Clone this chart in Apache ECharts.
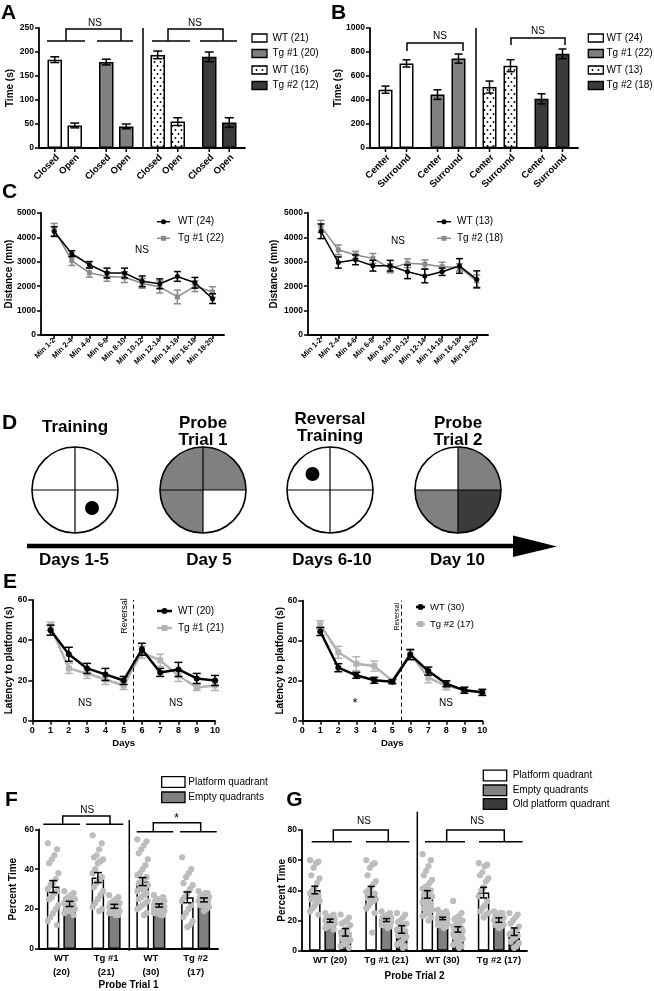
<!DOCTYPE html>
<html><head><meta charset="utf-8">
<script src="https://cdn.jsdelivr.net/npm/echarts@6.0.0/dist/echarts.min.js"></script>
<style>html,body{margin:0;padding:0;background:#fff;}#chart{width:654px;height:991px;}</style>
</head><body><div id="chart"></div>
<script>
// ================= DATA =================
// Panel A – elevated plus maze
const aGroups = ['WT (21)', 'Tg #1 (20)', 'WT (16)', 'Tg #2 (12)'];
const aConditions = ['Closed', 'Open'];
const aClosed = [184, 179, 194, 190];
const aClosedErr = [6, 6, 8, 10];
const aOpen = [47, 45, 55, 53];
const aOpenErr = [5, 5, 8, 10];
const aYTicks = [0, 50, 100, 150, 200, 250];

// Panel B – open field
const bGroups = ['WT (24)', 'Tg #1 (22)', 'WT (13)', 'Tg #2 (18)'];
const bConditions = ['Center', 'Surround'];
const bCenter = [486, 445, 508, 410];
const bCenterErr = [30, 40, 50, 42];
const bSurround = [705, 745, 686, 785];
const bSurroundErr = [30, 38, 50, 40];
const bYTicks = [0, 200, 400, 600, 800, 1000];

// Panel C – distance travelled
const cCategories = ['Min 1-2', 'Min 2-4', 'Min 4-6', 'Min 6-8', 'Min 8-10', 'Min 10-12', 'Min 12-14', 'Min 14-16', 'Min 16-18', 'Min 18-20'];
const cYTicks = [0, 1000, 2000, 3000, 4000, 5000];
const c1Names = ['WT (24)', 'Tg #1 (22)'];
const c1WT = [4240, 3330, 2880, 2540, 2540, 2200, 2100, 2400, 2140, 1490];
const c1WTErr = [200, 120, 130, 200, 200, 220, 200, 200, 220, 200];
const c1Tg = [4320, 3050, 2550, 2400, 2370, 2120, 1970, 1560, 2000, 1760];
const c1TgErr = [250, 200, 180, 200, 220, 200, 250, 280, 220, 220];
const c2Names = ['WT (13)', 'Tg #2 (18)'];
const c2WT = [4250, 2970, 3080, 2840, 2840, 2590, 2420, 2590, 2830, 2280];
const c2WTErr = [300, 230, 200, 220, 220, 280, 280, 150, 300, 350];
const c2Tg = [4450, 3490, 3280, 3140, 2730, 2940, 2900, 2800, 2770, 2210];
const c2TgErr = [250, 200, 150, 200, 180, 180, 180, 180, 150, 250];

// Panel D – schematic
const dTitles = [['Training'], ['Probe', 'Trial 1'], ['Reversal', 'Training'], ['Probe', 'Trial 2']];
const dDays = ['Days 1-5', 'Day 5', 'Days 6-10', 'Day 10'];

// Panel E – Morris water maze latency
const eDays = [1, 2, 3, 4, 5, 6, 7, 8, 9, 10];
const eXTicks = [0, 1, 2, 3, 4, 5, 6, 7, 8, 9, 10];
const eYTicks = [0, 20, 40, 60];
const eReversalDay = 5.5;
const e1Names = ['WT (20)', 'Tg #1 (21)'];
const e1WT = [45, 33, 26, 23, 20, 35.5, 24, 25.5, 21, 20];
const e1WTErr = [2.5, 3.5, 2.5, 3, 2, 3, 2, 3.5, 2.5, 2.5];
const e1Tg = [47, 26, 23.5, 20.5, 17.5, 34, 30, 22.5, 16.5, 17.5];
const e1TgErr = [2, 2.5, 2.5, 2.5, 2, 3, 3, 3, 1.5, 2.5];
const e2Names = ['WT (30)', 'Tg #2 (17)'];
const e2WT = [44.6, 26.5, 22.7, 20.2, 19.5, 33, 24.8, 18.5, 15.2, 14.2];
const e2WTErr = [2, 2, 1.5, 1.5, 1, 2.5, 2, 1.5, 1.5, 1.5];
const e2Tg = [48, 34.2, 28.5, 27.3, 20, 33.5, 21.5, 17.4, 15.5, 14];
const e2TgErr = [2, 3, 3.5, 2.5, 1, 2.5, 2.5, 2, 1.5, 1.5];

// Panel F – probe trial 1
const fGroups = ['WT (20)', 'Tg #1 (21)', 'WT (30)', 'Tg #2 (17)'];
const fSeriesNames = ['Platform quadrant', 'Empty quadrants'];
const fYTicks = [0, 20, 40, 60];
const fPlatform = [31.3, 35.8, 33.8, 25.9];
const fPlatformErr = [3, 2.5, 2, 2.7];
const fEmpty = [22.6, 21.4, 21.8, 24.6];
const fEmptyErr = [1.3, 1, 0.8, 1];
const fPlatformDots = [
  [53, 50, 47, 45, 43, 38, 35, 33, 32, 30, 29, 28, 26, 25, 22, 20, 18, 16, 14, 12],
  [57, 53, 50, 47, 46, 45, 44, 43, 40, 38, 36, 35, 33, 31, 29, 27, 25, 23, 21, 20, 19],
  [55, 54, 52, 50, 48, 45, 42, 40, 38, 37, 36, 35, 34, 33, 32, 31, 30, 30, 29, 28, 27, 26, 25, 24, 23, 22, 21, 20, 18, 17],
  [46, 40, 38, 36, 33, 32, 30, 28, 26, 24, 22, 20, 18, 16, 14, 12, 11]
];
const fEmptyDots = [
  [29, 28, 27, 26, 25, 25, 24, 24, 23, 23, 22, 22, 21, 21, 20, 20, 19, 19, 18, 17],
  [27, 26, 25, 24, 23, 23, 22, 22, 21, 21, 21, 20, 20, 20, 19, 19, 19, 18, 18, 17, 17],
  [27, 26, 25, 25, 24, 24, 23, 23, 23, 22, 22, 22, 22, 21, 21, 21, 21, 21, 20, 20, 20, 20, 19, 19, 19, 18, 18, 18, 17, 17],
  [29, 28, 28, 27, 26, 26, 25, 25, 24, 24, 23, 23, 22, 22, 21, 20, 19]
];

// Panel G – probe trial 2
const gGroups = ['WT (20)', 'Tg #1 (21)', 'WT (30)', 'Tg #2 (17)'];
const gSeriesNames = ['Platform quadrant', 'Empty quadrants', 'Old platform quadrant'];
const gYTicks = [0, 20, 40, 60, 80];
const gPlatform = [40.2, 39.1, 37.3, 38.5];
const gPlatformErr = [2.5, 3.5, 2.5, 3.5];
const gEmpty = [19.9, 20.3, 21.4, 20.3];
const gEmptyErr = [1, 1, 0.8, 1.5];
const gOld = [12.2, 14.1, 14.1, 12.6];
const gOldErr = [2.5, 2.5, 1.8, 2.5];
const gPlatformDots = [
  [60, 59, 58, 55, 50, 48, 45, 42, 40, 38, 37, 36, 35, 34, 33, 32, 30, 28, 26, 24],
  [60, 58, 57, 55, 50, 46, 44, 42, 40, 39, 38, 37, 36, 35, 34, 33, 32, 30, 28, 25, 12],
  [64, 60, 56, 53, 50, 47, 45, 43, 42, 41, 40, 39, 38, 37, 36, 35, 34, 33, 32, 31, 30, 29, 28, 27, 26, 25, 24, 23, 22, 20],
  [58, 57, 56, 52, 50, 48, 46, 42, 40, 36, 33, 30, 28, 26, 25, 24, 22]
];
const gEmptyDots = [
  [25, 24, 23, 22, 22, 21, 21, 20, 20, 20, 19, 19, 19, 18, 18, 17, 17, 16, 15, 14],
  [26, 25, 24, 23, 22, 22, 21, 21, 20, 20, 20, 20, 19, 19, 19, 18, 18, 17, 17, 16, 15],
  [27, 26, 25, 25, 24, 24, 23, 23, 22, 22, 22, 21, 21, 21, 21, 21, 20, 20, 20, 20, 19, 19, 19, 18, 18, 18, 17, 17, 16, 15],
  [26, 25, 25, 24, 23, 22, 21, 21, 20, 20, 19, 19, 18, 17, 17, 16, 15]
];
const gOldDots = [
  [24, 22, 20, 19, 18, 17, 15, 14, 13, 12, 11, 10, 9, 8, 7, 6, 5, 4, 3, 2],
  [25, 24, 22, 20, 19, 18, 17, 16, 15, 14, 13, 12, 11, 10, 9, 8, 6, 5, 4, 3, 2],
  [33, 25, 23, 22, 21, 20, 19, 18, 17, 16, 15, 15, 14, 14, 13, 13, 12, 12, 11, 11, 10, 10, 9, 8, 7, 6, 5, 4, 3, 2],
  [25, 24, 22, 20, 18, 16, 14, 13, 12, 11, 10, 9, 8, 6, 5, 3, 2]
];

// ================= STYLE / HELPERS =================
const FONT = "'Liberation Sans', Arial, Helvetica, sans-serif";
const WHITE = '#ffffff', GRAY = '#808080', DARK = '#3b3b3b', DOTC = '#bdbdbd';
const C_TG = '#8a8a8a', E_TG = '#b4b4b4';

function dotPattern() {
  const c = document.createElement('canvas');
  c.width = 6; c.height = 8;
  const g = c.getContext('2d');
  g.fillStyle = '#fff'; g.fillRect(0, 0, 6, 8);
  g.fillStyle = '#000';
  [[1.5, 2], [4.5, 6]].forEach(p => { g.beginPath(); g.arc(p[0], p[1], 0.95, 0, Math.PI * 2); g.fill(); });
  return { image: c, repeat: 'repeat' };
}
const DOTS = dotPattern();
const idx = n => Array.from({ length: n }, (_, i) => i);
const off = (k, n, w, gap) => (k - (n - 1) / 2) * w * (1 + gap);
const plain = v => String(v);

const grids = [
  { left: 39, top: 28, width: 206, height: 120 },        // 0 A
  { left: 370, top: 28, width: 208, height: 120 },       // 1 B
  { left: 41, top: 213, width: 183, height: 122 },       // 2 C1
  { left: 308, top: 213, width: 180, height: 122 },      // 3 C2
  { left: 32.3, top: 600, width: 182.7, height: 120.7 }, // 4 E1
  { left: 302.3, top: 600.7, width: 180, height: 120 },  // 5 E2
  { left: 39, top: 829.3, width: 179, height: 121.4 },   // 6 F
  { left: 302, top: 830, width: 225, height: 120.7 }     // 7 G
];

const AXLINE = { show: true, onZero: false, lineStyle: { color: '#000', width: 1.8 } };
const AXTICK = { show: true, length: 4, lineStyle: { color: '#000', width: 1.5 } };
const tickFont = (size, extra) => Object.assign({ color: '#000', fontFamily: FONT, fontWeight: 'bold', fontSize: size }, extra || {});

function valY(gi, ticks, name, gap) {
  return {
    type: 'value', gridIndex: gi, min: ticks[0], max: ticks[ticks.length - 1], interval: ticks[1] - ticks[0],
    axisLine: AXLINE, axisTick: AXTICK, splitLine: { show: false },
    axisLabel: tickFont(8.5, { margin: 5, formatter: plain }),
    name, nameLocation: 'middle', nameGap: gap, nameRotate: 90, nameMoveOverlap: false,
    nameTextStyle: { color: '#000', fontFamily: FONT, fontWeight: 'bold', fontSize: 10 }
  };
}
function catX(gi, data, label, name, gap) {
  return {
    type: 'category', gridIndex: gi, data, boundaryGap: true,
    axisLine: AXLINE, axisTick: { show: false }, splitLine: { show: false },
    axisLabel: label || { show: false },
    name: name || '', nameLocation: 'middle', nameGap: gap || 0, nameMoveOverlap: false,
    nameTextStyle: { color: '#000', fontFamily: FONT, fontWeight: 'bold', fontSize: 10 }
  };
}

function barSeries(gi, name, vals, fills, w, gap) {
  return {
    type: 'bar', name, xAxisIndex: gi, yAxisIndex: gi, barWidth: w, barGap: (gap * 100) + '%',
    data: vals.map((v, i) => ({ value: v, itemStyle: { color: fills[i] } })),
    itemStyle: { borderColor: '#000', borderWidth: 1.5 }, z: 2, silent: true
  };
}
function errSeries(gi, xs, vals, errs, dx, cap, color, lw, z) {
  return {
    type: 'custom', xAxisIndex: gi, yAxisIndex: gi, z: z, silent: true,
    data: xs.map((x, i) => [x, vals[i], errs[i]]),
    renderItem(p, api) {
      const x = api.value(0), v = api.value(1), e = api.value(2);
      const a = api.coord([x, v + e]), b = api.coord([x, v - e]);
      const cx = a[0] + dx, st = { stroke: color, lineWidth: lw };
      return { type: 'group', children: [
        { type: 'line', shape: { x1: cx, y1: a[1], x2: cx, y2: b[1] }, style: st },
        { type: 'line', shape: { x1: cx - cap / 2, y1: a[1], x2: cx + cap / 2, y2: a[1] }, style: st },
        { type: 'line', shape: { x1: cx - cap / 2, y1: b[1], x2: cx + cap / 2, y2: b[1] }, style: st }
      ] };
    }
  };
}
function dotSeries(gi, groups, dx, w) {
  const data = [];
  groups.forEach((arr, g) => arr.forEach((v, j) => data.push([g, v, j])));
  return {
    type: 'custom', xAxisIndex: gi, yAxisIndex: gi, z: 4, silent: true, data,
    renderItem(p, api) {
      const g = api.value(0), v = api.value(1), j = api.value(2);
      const c = api.coord([g, v]);
      const jit = (((j * 7) % 9) / 8 - 0.5) * (w - 2);
      return { type: 'circle', shape: { cx: c[0] + dx + jit, cy: c[1], r: 3.1 }, style: { fill: DOTC } };
    }
  };
}
function tickLabelSeries(gi, nGroups, conds, w, gap, fs) {
  const data = [];
  for (let g = 0; g < nGroups; g++) conds.forEach((c, k) => data.push([g, 0, k]));
  return {
    type: 'custom', xAxisIndex: gi, yAxisIndex: gi, z: 6, silent: true, data,
    renderItem(p, api) {
      const g = api.value(0), k = api.value(2);
      const c = api.coord([g, 0]);
      const x = c[0] + off(k, conds.length, w, gap), y = c[1];
      return { type: 'group', children: [
        { type: 'line', shape: { x1: x, y1: y, x2: x, y2: y + 4 }, style: { stroke: '#000', lineWidth: 1.5 } },
        { type: 'text', x: x + 3, y: y + 8, rotation: Math.PI / 4,
          style: { text: conds[k], fill: '#000', font: 'bold ' + fs + 'px ' + FONT, align: 'right', verticalAlign: 'middle' } }
      ] };
    }
  };
}
function lineSeries(gi, name, xs, vals, color, lw, symbol, size, z, extra) {
  return Object.assign({
    type: 'line', name, xAxisIndex: gi, yAxisIndex: gi, data: xs.map((x, i) => [x, vals[i]]),
    symbol, symbolSize: size, showSymbol: true, lineStyle: { color, width: lw },
    itemStyle: { color, borderWidth: 0 }, z, silent: true
  }, extra || {});
}

const xAxes = [], yAxes = [], series = [], G = [];

// ---------- A ----------
{
  const w = 14.5, gap = 0.38, fills = [WHITE, GRAY, DOTS, DARK];
  xAxes.push(catX(0, aGroups));
  yAxes.push(valY(0, aYTicks, 'Time (s)', 24));
  series.push(barSeries(0, aConditions[0], aClosed, fills, w, gap));
  series.push(barSeries(0, aConditions[1], aOpen, fills, w, gap));
  series.push(errSeries(0, idx(4), aClosed, aClosedErr, off(0, 2, w, gap), 9, '#000', 1.5, 5));
  series.push(errSeries(0, idx(4), aOpen, aOpenErr, off(1, 2, w, gap), 9, '#000', 1.5, 5));
  series.push(tickLabelSeries(0, 4, aConditions, w, gap, 9.5));
}
// ---------- B ----------
{
  const w = 14, gap = 0.5, fills = [WHITE, GRAY, DOTS, DARK];
  xAxes.push(catX(1, bGroups));
  yAxes.push(valY(1, bYTicks, 'Time (s)', 27));
  series.push(barSeries(1, bConditions[0], bCenter, fills, w, gap));
  series.push(barSeries(1, bConditions[1], bSurround, fills, w, gap));
  series.push(errSeries(1, idx(4), bCenter, bCenterErr, off(0, 2, w, gap), 8, '#000', 1.5, 5));
  series.push(errSeries(1, idx(4), bSurround, bSurroundErr, off(1, 2, w, gap), 8, '#000', 1.5, 5));
  series.push(tickLabelSeries(1, 4, bConditions, w, gap, 9.5));
}
// ---------- C ----------
{
  const cx = cCategories.map((c, i) => i + 1);
  [2, 3].forEach(gi => {
    xAxes.push({
      type: 'value', gridIndex: gi, min: 0.25, max: 10.65,
      axisLine: AXLINE, splitLine: { show: false },
      axisTick: Object.assign({ customValues: cx }, AXTICK),
      axisLabel: tickFont(7.5, { customValues: cx, rotate: 45, margin: 4, hideOverlap: false, formatter: v => cCategories[Math.round(v) - 1] })
    });
  });
  yAxes.push(valY(2, cYTicks, 'Distance (mm)', 27));
  yAxes.push(valY(3, cYTicks, 'Distance (mm)', 29));
  series.push(lineSeries(2, c1Names[1], cx, c1Tg, C_TG, 1.5, 'rect', 5, 3));
  series.push(errSeries(2, cx, c1Tg, c1TgErr, 0, 7, C_TG, 1.5, 3));
  series.push(lineSeries(2, c1Names[0], cx, c1WT, '#000', 1.5, 'circle', 5, 5));
  series.push(errSeries(2, cx, c1WT, c1WTErr, 0, 7, '#000', 1.5, 5));
  series.push(lineSeries(3, c2Names[1], cx, c2Tg, C_TG, 1.5, 'rect', 5, 3));
  series.push(errSeries(3, cx, c2Tg, c2TgErr, 0, 7, C_TG, 1.5, 3));
  series.push(lineSeries(3, c2Names[0], cx, c2WT, '#000', 1.5, 'circle', 5, 5));
  series.push(errSeries(3, cx, c2WT, c2WTErr, 0, 7, '#000', 1.5, 5));
}
// ---------- E ----------
{
  [4, 5].forEach(gi => {
    xAxes.push({
      type: 'value', gridIndex: gi, min: eXTicks[0], max: eXTicks[eXTicks.length - 1], interval: eXTicks[1] - eXTicks[0],
      axisLine: AXLINE, axisTick: AXTICK, splitLine: { show: false },
      axisLabel: tickFont(9, { margin: 5, formatter: plain }),
      name: 'Days', nameLocation: 'middle', nameGap: 18, nameMoveOverlap: false,
      nameTextStyle: { color: '#000', fontFamily: FONT, fontWeight: 'bold', fontSize: 9.5 }
    });
  });
  yAxes.push(valY(4, eYTicks, 'Latency to platform (s)', 18));
  yAxes.push(valY(5, eYTicks, 'Latency to platform (s)', 17));
  const rev = { silent: true, symbol: ['none', 'none'], label: { show: false },
    lineStyle: { type: [4, 3], color: '#000', width: 1 }, data: [{ xAxis: eReversalDay }] };
  series.push(lineSeries(4, e1Names[1], eDays, e1Tg, E_TG, 2.5, 'rect', 6, 3));
  series.push(errSeries(4, eDays, e1Tg, e1TgErr, 0, 8, E_TG, 1.5, 3));
  series.push(lineSeries(4, e1Names[0], eDays, e1WT, '#000', 2.5, 'circle', 6, 5, { markLine: rev }));
  series.push(errSeries(4, eDays, e1WT, e1WTErr, 0, 8, '#000', 1.5, 5));
  series.push(lineSeries(5, e2Names[1], eDays, e2Tg, E_TG, 2.5, 'rect', 6, 3));
  series.push(errSeries(5, eDays, e2Tg, e2TgErr, 0, 8, E_TG, 1.5, 3));
  series.push(lineSeries(5, e2Names[0], eDays, e2WT, '#000', 2.5, 'circle', 6, 5, { markLine: rev }));
  series.push(errSeries(5, eDays, e2WT, e2WTErr, 0, 8, '#000', 1.5, 5));
}
// ---------- F ----------
{
  const w = 12.5, gap = 0.32;
  xAxes.push(catX(6, fGroups, tickFont(9.5, { margin: 2, lineHeight: 14, interval: 0, hideOverlap: false, formatter: s => s.replace(' (', '\n(') }), 'Probe Trial 1', 31));
  yAxes.push(valY(6, fYTicks, 'Percent Time', 21));
  series.push(barSeries(6, fSeriesNames[0], fPlatform, [WHITE, WHITE, WHITE, WHITE], w, gap));
  series.push(barSeries(6, fSeriesNames[1], fEmpty, [GRAY, GRAY, GRAY, GRAY], w, gap));
  series.push(dotSeries(6, fPlatformDots, off(0, 2, w, gap), w));
  series.push(dotSeries(6, fEmptyDots, off(1, 2, w, gap), w));
  series.push(errSeries(6, idx(4), fPlatform, fPlatformErr, off(0, 2, w, gap), 8, '#000', 1.5, 6));
  series.push(errSeries(6, idx(4), fEmpty, fEmptyErr, off(1, 2, w, gap), 8, '#000', 1.5, 6));
}
// ---------- G ----------
{
  const w = 11.5, gap = 0.33;
  xAxes.push(catX(7, gGroups, tickFont(9.5, { margin: 5, interval: 0, hideOverlap: false }), 'Probe Trial 2', 21));
  yAxes.push(valY(7, gYTicks, 'Percent Time', 15));
  series.push(barSeries(7, gSeriesNames[0], gPlatform, [WHITE, WHITE, WHITE, WHITE], w, gap));
  series.push(barSeries(7, gSeriesNames[1], gEmpty, [GRAY, GRAY, GRAY, GRAY], w, gap));
  series.push(barSeries(7, gSeriesNames[2], gOld, [DARK, DARK, DARK, DARK], w, gap));
  series.push(dotSeries(7, gPlatformDots, off(0, 3, w, gap), w));
  series.push(dotSeries(7, gEmptyDots, off(1, 3, w, gap), w));
  series.push(dotSeries(7, gOldDots, off(2, 3, w, gap), w));
  series.push(errSeries(7, idx(4), gPlatform, gPlatformErr, off(0, 3, w, gap), 7, '#000', 1.5, 6));
  series.push(errSeries(7, idx(4), gEmpty, gEmptyErr, off(1, 3, w, gap), 7, '#000', 1.5, 6));
  series.push(errSeries(7, idx(4), gOld, gOldErr, off(2, 3, w, gap), 7, '#000', 1.5, 6));
}

// ================= GRAPHIC (annotations, legends, schematic) =================
function txt(text, x, y, size, weight, align, rot) {
  G.push({ type: 'text', x, y, z: 50, rotation: rot || 0, silent: true,
    style: { text, fill: '#000', font: (weight || 'normal') + ' ' + size + 'px ' + FONT, align: align || 'center', verticalAlign: 'middle' } });
}
function pl(points, w, color) {
  G.push({ type: 'polyline', z: 50, silent: true, shape: { points }, style: { stroke: color || '#000', lineWidth: w || 1.5, fill: null } });
}
function box(x, y, wd, ht, fill) {
  G.push({ type: 'rect', z: 50, silent: true, shape: { x, y, width: wd, height: ht }, style: { fill, stroke: '#000', lineWidth: 1.3 } });
}
function bracket(segs, legs, yTop, ySeg) {
  segs.forEach(s => pl([[s[0], ySeg], [s[1], ySeg]]));
  pl([[legs[0], ySeg], [legs[0], yTop], [legs[1], yTop], [legs[1], ySeg]]);
}
// panel letters
[['A', 8.5, 13], ['B', 338.5, 13], ['C', 9.5, 192], ['D', 9.5, 423], ['E', 10, 582], ['F', 11.5, 800], ['G', 294.5, 800]]
  .forEach(l => txt(l[0], l[1], l[2], 21, 'bold'));

// A annotations
pl([[143, 28], [143, 148]]);
bracket([[47, 85], [97, 133]], [66, 121], 29, 41); txt('NS', 95, 23, 10);
bracket([[152, 190], [200, 237]], [168, 223], 29, 41); txt('NS', 195, 23, 10);
{
  const fills = [WHITE, GRAY, DOTS, DARK], ys = [38, 53.5, 70, 85.5];
  aGroups.forEach((n, i) => { box(252, ys[i] - 4, 15, 8, fills[i]); txt(n, 272.5, ys[i], 10, 'normal', 'left'); });
}
// B annotations
pl([[476, 28], [476, 148]]);
pl([[407, 51], [407, 43], [463, 43], [463, 51]]); txt('NS', 440, 36, 10);
pl([[511, 45], [511, 38], [565, 38], [565, 45]]); txt('NS', 538, 31, 10);
{
  const fills = [WHITE, GRAY, DOTS, DARK], ys = [38, 53.5, 70, 85.5];
  bGroups.forEach((n, i) => { box(588.3, ys[i] - 4, 15, 8, fills[i]); txt(n, 606.5, ys[i], 10, 'normal', 'left'); });
}
// C legends + NS
function lineLegend(x1, x2, tx, ys, names, colors, lw, sym, r, fs) {
  names.forEach((n, i) => {
    const y = ys[i], mx = (x1 + x2) / 2;
    pl([[x1, y], [x2, y]], lw, colors[i]);
    if (sym[i] === 'circle') G.push({ type: 'circle', z: 51, silent: true, shape: { cx: mx, cy: y, r }, style: { fill: colors[i] } });
    else G.push({ type: 'rect', z: 51, silent: true, shape: { x: mx - r, y: y - r, width: 2 * r, height: 2 * r }, style: { fill: colors[i] } });
    txt(n, tx, y, fs, 'normal', 'left');
  });
}
lineLegend(157, 170, 178, [221.7, 238.3], c1Names, ['#000', C_TG], 1.5, ['circle', 'rect'], 2.5, 10);
lineLegend(437, 451, 457, [221.7, 238.3], c2Names, ['#000', C_TG], 1.5, ['circle', 'rect'], 2.5, 10);
txt('NS', 142, 250, 10); txt('NS', 398, 241, 10);

// D schematic
{
  const cxs = [75, 203, 330, 458], cy = 490, r = 43;
  const quads = [ // TL, TR, BL, BR
    [WHITE, WHITE, WHITE, WHITE], [GRAY, GRAY, GRAY, WHITE], [WHITE, WHITE, WHITE, WHITE], [WHITE, GRAY, GRAY, DARK]];
  const ang = [[Math.PI, 1.5 * Math.PI], [1.5 * Math.PI, 2 * Math.PI], [0.5 * Math.PI, Math.PI], [0, 0.5 * Math.PI]];
  cxs.forEach((cx, i) => {
    quads[i].forEach((f, q) => G.push({ type: 'sector', z: 40, silent: true,
      shape: { cx, cy, r, r0: 0, startAngle: ang[q][0], endAngle: ang[q][1] }, style: { fill: f } }));
    G.push({ type: 'circle', z: 42, silent: true, shape: { cx, cy, r }, style: { fill: null, stroke: '#000', lineWidth: 1.6 } });
    pl([[cx - r, cy], [cx + r, cy]], 1.2); pl([[cx, cy - r], [cx, cy + r]], 1.2);
  });
  G.push({ type: 'circle', z: 43, silent: true, shape: { cx: 92, cy: 508, r: 7 }, style: { fill: '#000' } });
  G.push({ type: 'circle', z: 43, silent: true, shape: { cx: 312.5, cy: 474, r: 7 }, style: { fill: '#000' } });
  const titleY = [[427], [423, 440], [419.5, 436], [423, 440]];
  dTitles.forEach((lines, i) => lines.forEach((t, j) => txt(t, cxs[i], titleY[i][j], 17, 'bold')));
  const dayX = [74, 209, 332, 457.5];
  dDays.forEach((t, i) => txt(t, dayX[i], 560, 17, 'bold'));
  pl([[27, 546], [515, 546]], 4.3);
  G.push({ type: 'polygon', z: 50, silent: true, shape: { points: [[513, 535.5], [557, 546.5], [513, 557]] }, style: { fill: '#000' } });
}

// E legends + annotations
lineLegend(157, 172, 178, [611, 628], e1Names, ['#000', E_TG], 2.5, ['circle', 'rect'], 3, 10);
lineLegend(416, 425, 430, [607, 624], e2Names, ['#000', E_TG], 2.5, ['circle', 'rect'], 3, 9.5);
txt('Reversal', 125, 616, 9, 'normal', 'center', Math.PI / 2);
txt('Reversal', 396.7, 616.7, 7, 'normal', 'center', Math.PI / 2);
txt('NS', 85, 703, 10); txt('NS', 176, 703, 10);
txt('*', 355, 703, 13); txt('NS', 446, 703, 10);

// F annotations
pl([[129.3, 820], [129.3, 950.7]]);
bracket([[43.3, 80], [86, 123.3]], [62.7, 110], 816, 824.3); txt('NS', 87.3, 810.5, 10);
bracket([[136.7, 173.3], [180, 216.7]], [153.3, 200.7], 822.7, 831.7); txt('*', 176.7, 819, 12);
box(161.7, 776.7, 23.3, 10.6, WHITE); txt(fSeriesNames[0], 188.3, 782, 10, 'normal', 'left');
box(161.7, 792, 23.3, 10.6, GRAY); txt(fSeriesNames[1], 188.3, 797.3, 10, 'normal', 'left');

// G annotations
pl([[417.3, 811.7], [417.3, 951]]);
bracket([[311.7, 351.7], [366, 409.3]], [333.3, 388.3], 830, 841.7); txt('NS', 364, 821.5, 10);
bracket([[425, 465], [479, 522.7]], [446.7, 504.3], 830, 841.7); txt('NS', 477.3, 821.5, 10);
[WHITE, GRAY, DARK].forEach((f, i) => {
  const y = [775.5, 790.3, 804][i];
  box(483.3, y - 5.3, 23.4, 10.7, f); txt(gSeriesNames[i], 512.7, y, 10, 'normal', 'left');
});

// ================= RENDER =================
const chart = echarts.init(document.getElementById('chart'), null, { renderer: 'canvas' });
chart.setOption({
  animation: false,
  backgroundColor: '#fff',
  textStyle: { fontFamily: FONT },
  grid: grids,
  xAxis: xAxes,
  yAxis: yAxes,
  series,
  graphic: { elements: G }
});
</script></body></html>
